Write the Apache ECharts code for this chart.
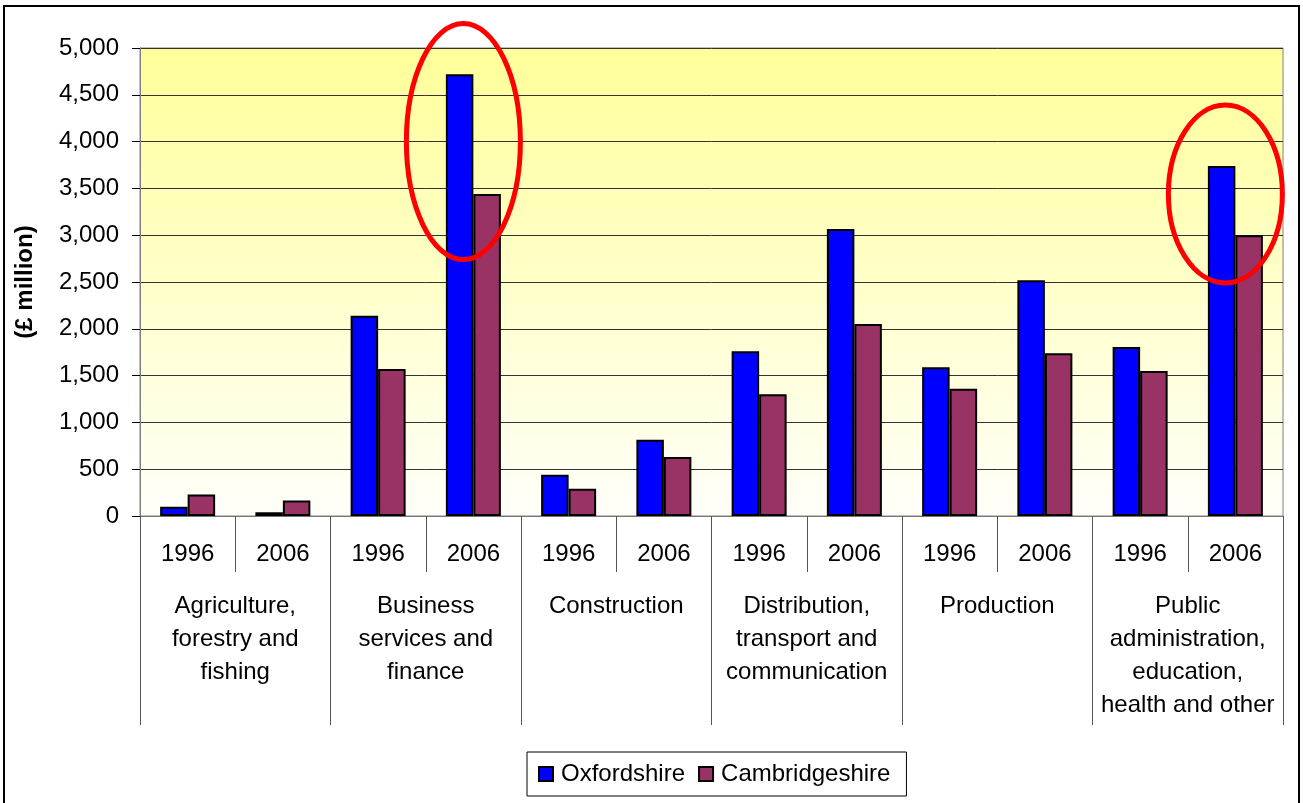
<!DOCTYPE html>
<html>
<head>
<meta charset="utf-8">
<script src="https://cdn.jsdelivr.net/npm/echarts@6/dist/echarts.min.js"></script>
<style>
  html, body { margin: 0; padding: 0; background: #fff; }
  #chart { width: 1303px; height: 803px; }
</style>
</head>
<body>
<div id="chart"></div>
<script>
const years = ["1996", "2006", "1996", "2006", "1996", "2006", "1996", "2006", "1996", "2006", "1996", "2006"];
const sectors = [
  "Agriculture,\nforestry and\nfishing",
  "Business\nservices and\nfinance",
  "Construction",
  "Distribution,\ntransport and\ncommunication",
  "Production",
  "Public\nadministration,\neducation,\nhealth and other"
];
const oxfordshire = [100, 40, 2140, 4720, 440, 815, 1760, 3065, 1590, 2520, 1805, 3740];
const cambridgeshire = [230, 165, 1570, 3440, 290, 630, 1300, 2050, 1360, 1740, 1550, 3000];
// red rings: which bar column, value at ring centre, radii
const rings = [
  { col: 3, value: 4000, rx: 57, ry: 118 },
  { col: 11, value: 3440, rx: 57, ry: 89 }
];

const font = "'Liberation Sans', Arial, sans-serif";
const chart = echarts.init(document.getElementById("chart"));

const fmt = v => String(v).replace(/\B(?=(\d{3})+(?!\d))/g, ",");

chart.setOption({
  animation: false,
  backgroundColor: "#fff",
  textStyle: { fontFamily: font },
  grid: {
    left: 140, right: 20, top: 48, bottom: 287,
    show: true,
    borderColor: "#808080",
    borderWidth: 1,
    backgroundColor: {
      type: "linear", x: 0, y: 0, x2: 0, y2: 1,
      colorStops: [{ offset: 0, color: "#ffff99" }, { offset: 1, color: "#fffffa" }]
    }
  },
  legend: {
    left: 527, top: 752,
    padding: [10, 16, 10, 11],
    borderColor: "#000", borderWidth: 1,
    icon: "rect",
    itemWidth: 14, itemHeight: 14, itemGap: 13,
    textStyle: { fontSize: 24, color: "#000", fontFamily: font, padding: [0, 0, 0, 3] },
    data: ["Oxfordshire", "Cambridgeshire"]
  },
  xAxis: [
    {
      type: "category",
      data: years,
      position: "bottom",
      axisLine: { show: true, lineStyle: { color: "#777" } },
      axisTick: { show: true, interval: 0, length: 56, lineStyle: { color: "#555" } },
      axisLabel: { interval: 0, margin: 26, fontSize: 24, color: "#000", fontFamily: font }
    },
    {
      type: "category",
      data: sectors,
      position: "bottom",
      gridIndex: 0,
      axisLine: { show: false },
      axisTick: { show: true, interval: 0, length: 209, lineStyle: { color: "#555" } },
      axisLabel: { interval: 0, margin: 74, fontSize: 24, lineHeight: 33, color: "#000", fontFamily: font, align: "center" }
    }
  ],
  yAxis: {
    type: "value",
    min: 0, max: 5000, interval: 500,
    name: "(£ million)",
    nameLocation: "middle",
    nameGap: 103,
    nameTextStyle: { fontSize: 24, fontWeight: "bold", color: "#000", fontFamily: font },
    axisLine: { show: true, lineStyle: { color: "#808080" } },
    axisTick: { show: true, length: 8, lineStyle: { color: "#000" } },
    axisLabel: { margin: 21, fontSize: 24, color: "#000", fontFamily: font, formatter: fmt },
    splitLine: { lineStyle: { color: "#333", width: 1 } }
  },
  series: [
    {
      name: "Oxfordshire", type: "bar", data: oxfordshire,
      barWidth: 27.5, barGap: "0%",
      itemStyle: { color: "#0000ff", borderColor: "#000", borderWidth: 2 }
    },
    {
      name: "Cambridgeshire", type: "bar", data: cambridgeshire,
      barWidth: 27.5, barGap: "0%",
      itemStyle: { color: "#993366", borderColor: "#000", borderWidth: 2 }
    }
  ]
});

// annotations: outer frame and red rings anchored to the bars
const ringEls = rings.map(r => {
  const p = chart.convertToPixel({ xAxisIndex: 0, yAxisIndex: 0 }, [r.col, r.value]);
  return {
    type: "ellipse",
    shape: { cx: p[0] - 10, cy: p[1], rx: r.rx, ry: r.ry },
    style: { fill: null, stroke: "#ff0000", lineWidth: 5 },
    z: 100
  };
});
chart.setOption({
  graphic: [
    {
      type: "rect",
      shape: { x: 4, y: 6, width: 1295, height: 820 },
      style: { fill: null, stroke: "#000", lineWidth: 2 },
      silent: true
    },
    ...ringEls
  ]
});
</script>
</body>
</html>
